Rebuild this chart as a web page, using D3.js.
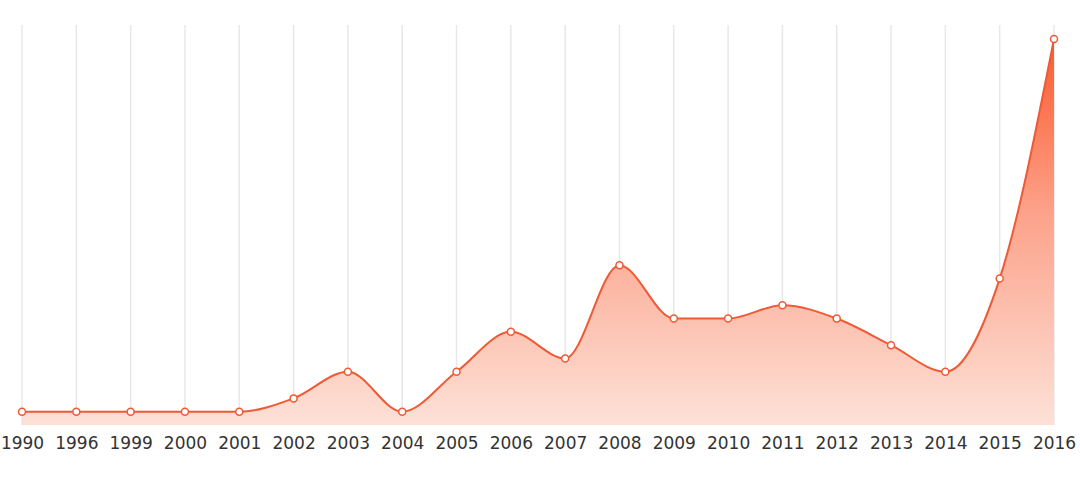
<!DOCTYPE html>
<html><head><meta charset="utf-8">
<script src="https://cdn.jsdelivr.net/npm/d3@7"></script>
<style>body{margin:0;background:#fff}svg{display:block}</style>
</head><body>
<svg id="c" width="1080" height="478"></svg>
<script>
const years = ["1990","1996","1999","2000","2001","2002","2003","2004","2005","2006","2007","2008","2009","2010","2011","2012","2013","2014","2015","2016"];
const values = [1,1,1,1,1,2,4,1,4,7,5,12,8,8,9,8,6,4,11,29];

const svg = d3.select("#c");
const x = d3.scalePoint().domain(years).range([22, 1054]);
const y = d3.scaleLinear().domain([0, 29]).range([425, 39]);

const defs = svg.append("defs");
const g = defs.append("linearGradient").attr("id","grad").attr("x1",0).attr("y1",0).attr("x2",0).attr("y2",1)
  .attr("gradientUnits","userSpaceOnUse").attr("y1",39).attr("y2",425).attr("x1",0).attr("x2",0);
g.append("stop").attr("offset","0%").attr("stop-color","#fb5a2c");
g.append("stop").attr("offset","45%").attr("stop-color","#fca28a");
g.append("stop").attr("offset","100%").attr("stop-color","#fde1d7");

// grid
svg.append("g").selectAll("line").data(years).join("line")
  .attr("x1", d=>x(d)).attr("x2", d=>x(d)).attr("y1", 25).attr("y2", 425)
  .attr("stroke","#e8e8e8").attr("stroke-width",1.5);

const data = years.map((d,i)=>({k:d,v:values[i]}));
const area = d3.area().x(d=>x(d.k)).y0(y(0)).y1(d=>y(d.v)).curve(d3.curveMonotoneX);
const line = d3.line().x(d=>x(d.k)).y(d=>y(d.v)).curve(d3.curveMonotoneX);
svg.append("path").datum(data).attr("d",area).attr("fill","url(#grad)");
svg.append("path").datum(data).attr("d",line).attr("fill","none").attr("stroke","#ee5a36").attr("stroke-width",2);
svg.append("g").selectAll("circle").data(data).join("circle")
  .attr("cx",d=>x(d.k)).attr("cy",d=>y(d.v)).attr("r",3.5)
  .attr("fill","#fff").attr("stroke","#ee5a36").attr("stroke-width",1.5);

const ax = svg.append("g").attr("transform","translate(0,425)")
  .call(d3.axisBottom(x).tickSize(0).tickPadding(10));
ax.select(".domain").remove();
ax.selectAll("text").attr("font-family","DejaVu Sans").attr("font-size",17).attr("fill","#333").attr("dy","0.85em");
</script>
</body></html>
